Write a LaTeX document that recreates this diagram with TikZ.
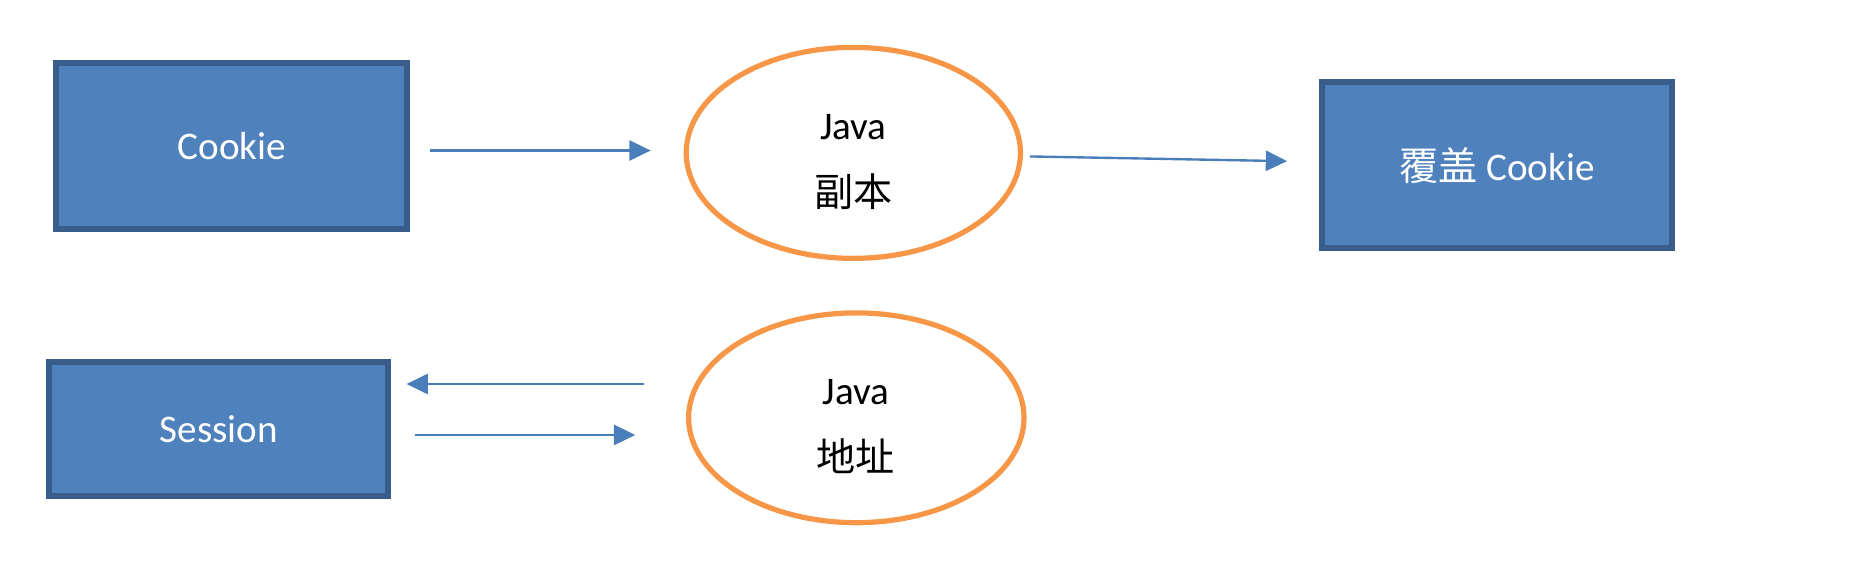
\documentclass[tikz,border=0pt]{standalone}
\usepackage{fontspec}
\setmainfont{Carlito}
\newfontfamily\cjk{Noto Sans CJK SC}
\usetikzlibrary{arrows.meta,shapes.geometric}
\definecolor{boxfill}{HTML}{4F81BD}
\definecolor{boxline}{HTML}{385D8A}
\definecolor{ovalline}{HTML}{F79646}
\definecolor{arrowcol}{HTML}{4A7EBB}
\tikzset{
  bluebox/.style={draw=boxline, fill=boxfill, line width=2.5pt, inner sep=0pt, text=white,
    font=\fontsize{16.5}{20}\selectfont},
  oval/.style={draw=ovalline, line width=2.2pt, ellipse, inner sep=0pt},
  ovaltext/.style={inner sep=0pt, font=\fontsize{16.5}{20}\selectfont, text=black},
  flow/.style={draw=arrowcol, line width=1pt, -{Triangle[length=9pt,width=8.5pt]}}
}
\begin{document}
\begin{tikzpicture}[x=0.5pt,y=-0.5pt]
\useasboundingbox (0,0) rectangle (1566,480);
% boxes
\node[bluebox, minimum width=148pt, minimum height=70pt] (cookie) at (195.5,123.5) {Cookie};
\node[bluebox, minimum width=147.5pt, minimum height=70pt] (cover) at (1263,139.5) {{\cjk 覆盖} Cookie};
\node[bluebox, minimum width=143pt, minimum height=56.5pt] (session) at (184.5,362) {Session};
% ovals
\node[oval, minimum width=141pt, minimum height=89pt] (copy) at (720,129) {};
\node[ovaltext] (copyA) at (720,107) {Java};
\node[ovaltext] (copyB) at (720,162) {\cjk 副本};
\node[oval, minimum width=141.5pt, minimum height=88.5pt] (addr) at (722.5,352.5) {};
\node[ovaltext] (addrA) at (722,331) {Java};
\node[ovaltext] (addrB) at (722,385) {\cjk 地址};
% connector end points
\coordinate (a1s) at (363,127);
\coordinate (a1e) at (549,127);
\coordinate (a2s) at (869,132);
\coordinate (a2e) at (1086,136);
\coordinate (a3s) at (543,324);
\coordinate (a3e) at (343,324);
\coordinate (a4s) at (350,367);
\coordinate (a4e) at (536,367);
\draw[flow] (a1s) -- (a1e);
\draw[flow] (a2s) -- (a2e);
\draw[flow] (a3s) -- (a3e);
\draw[flow] (a4s) -- (a4e);
\end{tikzpicture}
\end{document}
